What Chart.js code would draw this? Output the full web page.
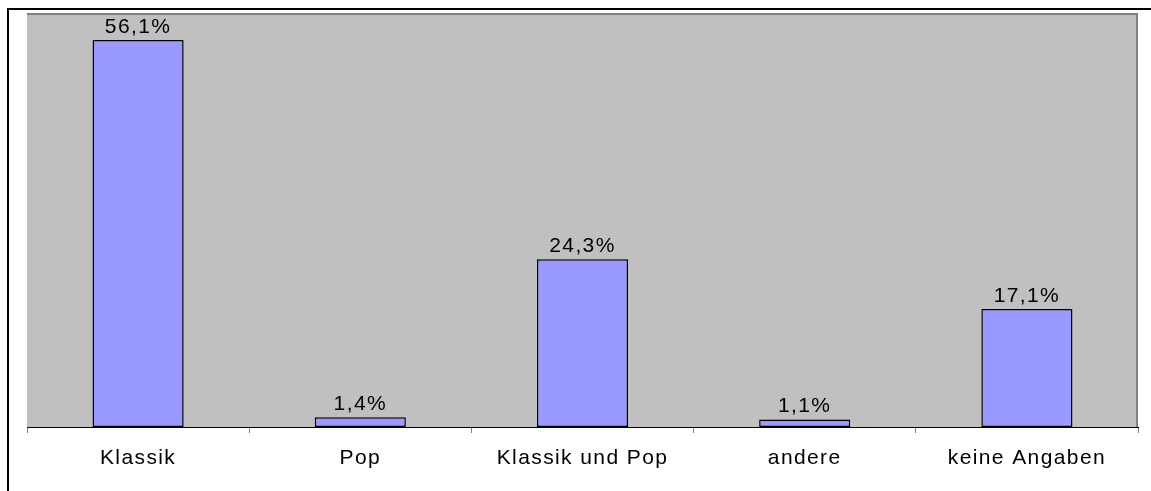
<!DOCTYPE html>
<html>
<head>
<meta charset="utf-8">
<script src="https://cdn.jsdelivr.net/npm/chart.js@4"></script>
<style>
  html, body { margin: 0; padding: 0; background: #fff; }
  #wrap { width: 1151px; height: 491px; position: relative; }
</style>
</head>
<body>
<div id="wrap"><canvas id="c" width="1151" height="491"></canvas></div>
<script>
const categories = ["Klassik", "Pop", "Klassik und Pop", "andere", "keine Angaben"];
const values = [56.1, 1.4, 24.3, 1.1, 17.1];
const valueLabels = ["56,1%", "1,4%", "24,3%", "1,1%", "17,1%"];
const yMin = 0;
const yMax = 60;

const FONT = "'Liberation Sans', Arial, sans-serif";
const SPACING = '1.4px';

const framePlugin = {
  id: 'frame',
  beforeDraw(chart) {
    const ctx = chart.ctx;
    const a = chart.chartArea;
    ctx.save();
    ctx.fillStyle = '#ffffff';
    ctx.fillRect(0, 0, chart.width, chart.height);
    ctx.fillStyle = '#000000';
    ctx.fillRect(7, 8, 2, chart.height - 8);
    ctx.fillRect(7, 8, chart.width - 7, 2);
    ctx.fillStyle = '#C0C0C0';
    ctx.fillRect(a.left, a.top, a.right - a.left, a.bottom - a.top);
    ctx.strokeStyle = '#808080';
    ctx.lineWidth = 2;
    ctx.beginPath();
    ctx.moveTo(a.left, a.top + 1);
    ctx.lineTo(a.right - 1, a.top + 1);
    ctx.lineTo(a.right - 1, a.bottom);
    ctx.stroke();
    ctx.restore();
    ctx.letterSpacing = SPACING;
  },
  afterDatasetsDraw(chart) {
    const ctx = chart.ctx;
    const meta = chart.getDatasetMeta(0);
    ctx.save();
    ctx.letterSpacing = SPACING;
    ctx.font = '21px ' + FONT;
    ctx.fillStyle = '#000000';
    ctx.textAlign = 'center';
    ctx.textBaseline = 'alphabetic';
    meta.data.forEach((bar, i) => {
      ctx.fillText(valueLabels[i], bar.x, bar.y - 7);
    });
    ctx.restore();
  }
};

new Chart(document.getElementById('c'), {
  type: 'bar',
  data: {
    labels: categories,
    datasets: [{
      data: values,
      backgroundColor: '#9999FF',
      borderColor: '#000000',
      borderWidth: 1.5,
      borderSkipped: false,
      categoryPercentage: 1,
      barPercentage: 0.41
    }]
  },
  options: {
    responsive: false,
    animation: false,
    devicePixelRatio: 1,
    layout: { padding: { left: 27, right: 13, top: 13, bottom: 0 } },
    plugins: { legend: { display: false }, tooltip: { enabled: false } },
    scales: {
      y: { display: false, min: yMin, max: yMax },
      x: {
        afterFit(scale) { scale.height = 64; },
        grid: { drawOnChartArea: false, drawTicks: true, tickLength: 6, color: '#808080', lineWidth: 1 },
        border: { display: true, color: '#000000', width: 1 },
        ticks: { font: { family: FONT, size: 21 }, color: '#000000', padding: 13, maxRotation: 0, autoSkip: false }
      }
    }
  },
  plugins: [framePlugin]
});
</script>
</body>
</html>
